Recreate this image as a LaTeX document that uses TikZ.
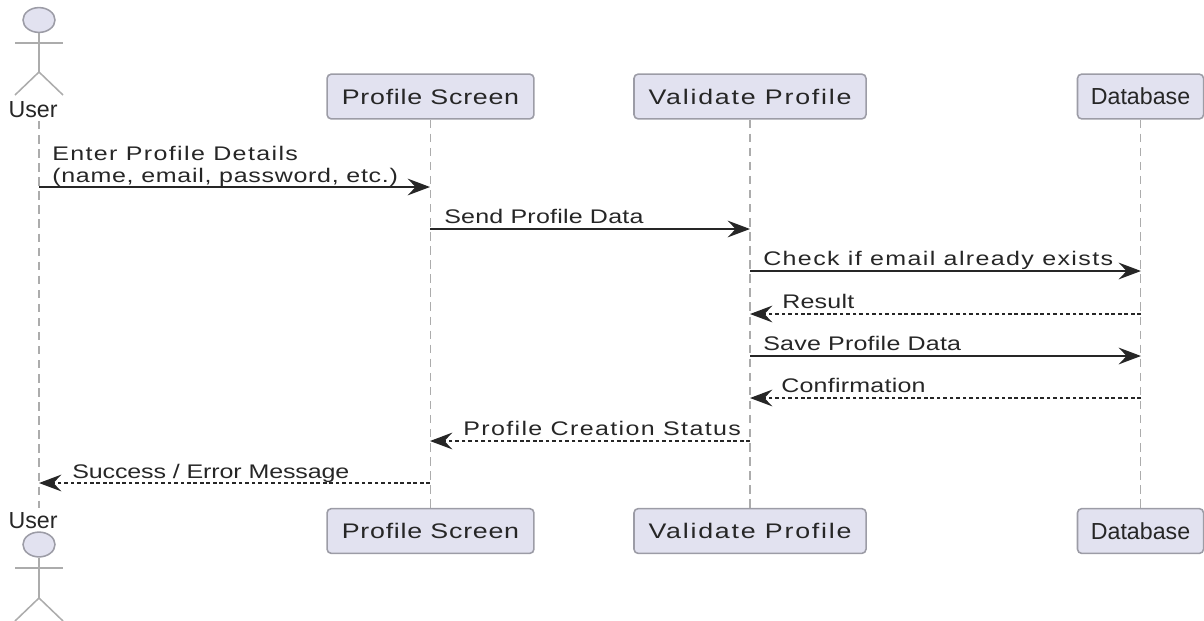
\documentclass[tikz,border=0pt]{standalone}
\usepackage{fontspec}
\setmainfont{Liberation Sans}
\newfontfamily\tightfont[FakeStretch=1.27,LetterSpace=-0.6]{Liberation Sans}
\newfontfamily\lightfont[FakeStretch=1.27,LetterSpace=1.2]{Liberation Sans}
\newfontfamily\widefont[FakeStretch=1.27,LetterSpace=3.6]{Liberation Sans}
\newfontfamily\widerfont[FakeStretch=1.27,LetterSpace=7]{Liberation Sans}
\newfontfamily\widestfont[FakeStretch=1.27,LetterSpace=8.4]{Liberation Sans}
\usepackage{tikz}
\usetikzlibrary{arrows.meta,shapes}
\definecolor{boxfill}{HTML}{E2E2F0}
\definecolor{boxline}{HTML}{9C9CA6}
\definecolor{lifeline}{HTML}{ACACAC}
\definecolor{msgline}{HTML}{262626}
\tikzset{
    party/.style={draw=boxline,fill=boxfill,rounded corners=3pt,line width=1.1pt,minimum height=1.12cm,inner sep=0pt,text=black!85},
    wide/.style={font=\widefont\fontsize{15}{17}\selectfont},
    wider/.style={font=\widestfont\fontsize{15}{17}\selectfont},
    plain/.style={font=\fontsize{16.5}{18}\selectfont},
    stick/.style={draw=lifeline,line width=1.1pt},
    headshape/.style={draw=boxline,fill=boxfill,ellipse,line width=1.1pt,minimum width=0.8cm,minimum height=0.62cm,inner sep=0pt},
    life/.style={draw=lifeline,line width=1.8pt,dash pattern=on 6pt off 4pt},
    label/.style={font=\fontsize{14}{15.6}\selectfont,anchor=base west,align=left,inner sep=0pt,text=black!85},
    call/.style={draw=msgline,line width=1pt,-{Stealth[length=0.56cm,width=0.42cm,inset=0.2cm]}},
    reply/.style={call,dash pattern=on 2.6pt off 2pt},
}
\begin{document}
\begin{tikzpicture}[x=0.025cm,y=-0.025cm]
    \useasboundingbox(0,0)rectangle(1204,620);
    \node(profile)at(430.5,96.5)[party,wide,minimum width=5.17cm]{Profile Screen};
    \node(validate)at(750,96.5)[party,wider,minimum width=5.8cm]{Validate Profile};
    \node(database)at(1140.5,96.5)[party,plain,minimum width=3.15cm]{Database};
    \node(profileb)at(430.5,531)[party,wide,minimum width=5.17cm]{Profile Screen};
    \node(validateb)at(750,531)[party,wider,minimum width=5.8cm]{Validate Profile};
    \node(databaseb)at(1140.5,531)[party,plain,minimum width=3.15cm]{Database};
    % top actor
    \node(user)at(33,110)[plain,inner sep=0pt,text=black!85]{User};
    \node(head)at(39,20)[headshape]{};
    \coordinate(hip)at(39,72);
    \coordinate(arml)at(15,43);
    \coordinate(armr)at(63,43);
    \coordinate(legl)at(15,95);
    \coordinate(legr)at(63,95);
    \draw[stick](head)--(hip);
    \draw[stick](arml)--(armr);
    \draw[stick](legl)--(hip)--(legr);
    % bottom actor
    \node(userb)at(33,521)[plain,inner sep=0pt,text=black!85]{User};
    \node(headb)at(39,544.5)[headshape]{};
    \coordinate(hipb)at(39,598);
    \coordinate(armlb)at(15,568);
    \coordinate(armrb)at(63,568);
    \coordinate(leglb)at(15,621);
    \coordinate(legrb)at(63,621);
    \draw[stick](headb)--(hipb);
    \draw[stick](armlb)--(armrb);
    \draw[stick](leglb)--(hipb)--(legrb);
    % lifelines
    \coordinate(usertop)at(39,121);
    \coordinate(userbot)at(39,508);
    \draw[life](usertop)--(userbot);
    \draw[life,line width=1.1pt](profile)--(profileb);
    \draw[life](validate)--(validateb);
    \draw[life,line width=1.1pt](database)--(databaseb);
    % message ends
    \coordinate(u1)at(39,187);
    \coordinate(p1)at(430,187);
    \coordinate(p2)at(430,229);
    \coordinate(v2)at(750,229);
    \coordinate(v3)at(750,271);
    \coordinate(d3)at(1141,271);
    \coordinate(d4)at(1141,314);
    \coordinate(v4)at(750,314);
    \coordinate(v5)at(750,356);
    \coordinate(d5)at(1141,356);
    \coordinate(d6)at(1141,398);
    \coordinate(v6)at(750,398);
    \coordinate(v7)at(750,441);
    \coordinate(p7)at(430,441);
    \coordinate(p8)at(430,483);
    \coordinate(u8)at(39,483);
    \draw[call](u1)--(p1);
    \draw[call](p2)--(v2);
    \draw[call](v3)--(d3);
    \draw[reply](d4)--(v4);
    \draw[call](v5)--(d5);
    \draw[reply](d6)--(v6);
    \draw[reply](v7)--(p7);
    \draw[reply](p8)--(u8);
    % message texts
    \node(msga)at(52,182)[label]{{\widerfont Enter Profile Details}\\{\widefont (name, email, password, etc.)}};
    \node(msgb)at(444,223)[label]{\lightfont Send Profile Data};
    \node(msgc)at(763,265)[label]{\widerfont Check if email already exists};
    \node(msgd)at(782,308)[label]{\lightfont Result};
    \node(msge)at(763,350)[label]{\lightfont Save Profile Data};
    \node(msgf)at(781,392)[label]{\lightfont Confirmation};
    \node(msgg)at(463,435)[label]{\widerfont Profile Creation Status};
    \node(msgh)at(72,478)[label]{\tightfont Success / Error Message};
\end{tikzpicture}
\end{document}
